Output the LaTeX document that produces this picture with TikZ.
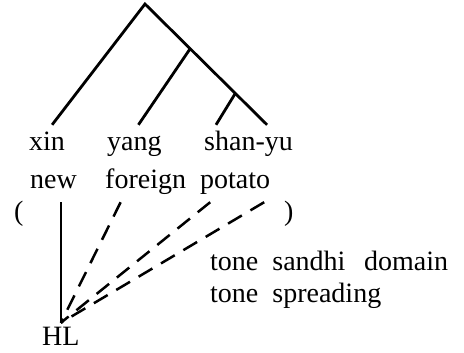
\documentclass[tikz,border=0pt]{standalone}
\usepackage{fontspec}
\setmainfont{Liberation Serif}
\usetikzlibrary{calc}

\begin{document}
\begin{tikzpicture}[
        x=1pt, y=-1pt,
        word/.style={
            anchor=base west,
            inner sep=0pt,
            text height=25pt,
            text depth=13pt,
            font=\fontsize{28}{32}\selectfont
        },
        branch/.style={line width=2.8pt},
        assoc/.style={line width=2.5pt, dash pattern=on 16pt off 10pt}
    ]
        \useasboundingbox (0,0) rectangle (464,353);

        % Parole e glosse
        \foreach \name/\x/\txt in {xin/29/xin, yang/107/yang, shanyu/204/shan-yu} {
            \node[word] (\name) at (\x,150) {\txt};
        }
        \foreach \name/\x/\txt in {new/30/new, foreign/105/foreign, potato/200/potato} {
            \node[word] (\name) at (\x,189) {\txt};
        }
        \node[word] (lp) at (14,221) {(};
        \node[word] (rp) at (284,221) {)};
        \node[word] (HL) at (42,345) {HL};
        \node[word] (domain) at (210,270) {tone\ \ sandhi\ \ \,domain};
        \node[word] (spread) at (210,302) {tone\ \ spreading};

        % Albero
        \coordinate (root) at (145,4);
        \coordinate (tipr) at ([xshift=-26pt]shanyu.north east);
        \coordinate (n1) at ($(root)!0.37!(tipr)$);
        \coordinate (n2) at ($(root)!0.74!(tipr)$);
        \draw[branch, line join=miter] ([xshift=5pt]xin.north) -- (root) -- (tipr);
        \draw[branch] (n1) -- ([xshift=4pt]yang.north);
        \draw[branch] (n2) -- ([xshift=12pt]shanyu.north west);

        % Collegamenti al tono
        \draw[line width=2.5pt] (HL.north |- new.south) -- ([yshift=-3pt]HL.north);
        \foreach \src/\dx in {foreign/-25, potato/-25, potato/29} {
            \draw[assoc] ([xshift=\dx pt]\src.south) -- ([yshift=-3pt]HL.north);
        }
    \end{tikzpicture}
\end{document}
